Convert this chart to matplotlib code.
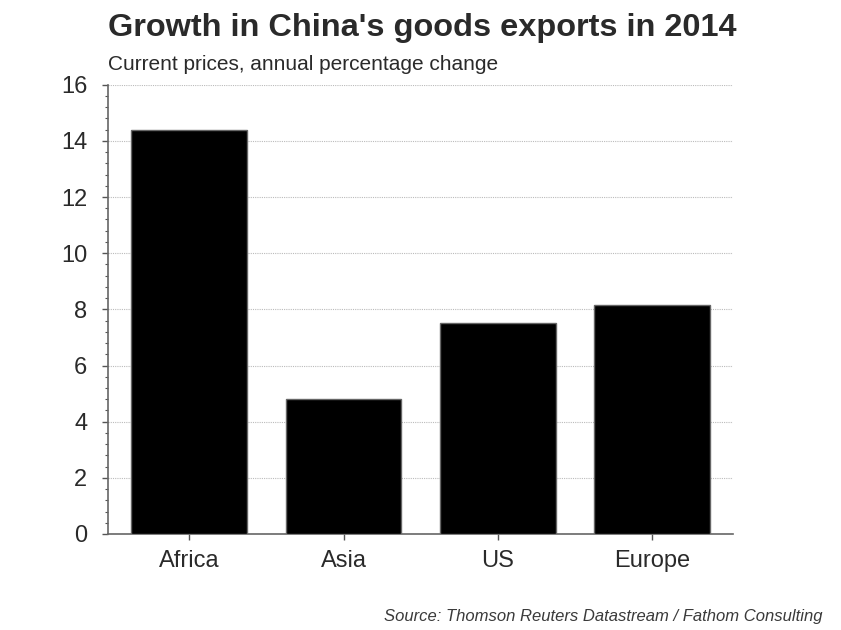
import matplotlib.pyplot as plt
from matplotlib.ticker import MultipleLocator

plt.rcParams['font.family'] = ['Liberation Sans', 'DejaVu Sans']

# data
regions = ['Africa', 'Asia', 'US', 'Europe']
growth = [14.40, 4.81, 7.51, 8.17]

fig = plt.figure(figsize=(8.41, 6.3), dpi=100)
ax = fig.add_axes([108 / 841, 1 - 534 / 630, 625.3 / 841, 449.3 / 630])

x = range(len(regions))
ax.bar(x, growth, width=0.75, color='black', edgecolor='#666666', linewidth=1.0, zorder=3)

ax.set_xlim(-0.527, 3.527)
ax.set_ylim(0, 16)
ax.set_xticks(list(x))
ax.set_xticklabels(regions)
ax.yaxis.set_major_locator(MultipleLocator(2))
ax.yaxis.set_minor_locator(MultipleLocator(0.4))

# dotted grid at major ticks
ax.grid(axis='y', which='major', color='#bbbbbb', linestyle=(0, (1, 1)), linewidth=0.8, zorder=0)

for side in ['top', 'right']:
    ax.spines[side].set_visible(False)
for side in ['left', 'bottom']:
    ax.spines[side].set_color('#666666')
    ax.spines[side].set_linewidth(1.2)

ax.tick_params(axis='y', which='major', length=4.3, width=1, color='#555555',
               labelsize=17, labelcolor='#2a2a2a', pad=10.5)
ax.tick_params(axis='y', which='minor', length=2.2, width=0.8, color='#555555')
ax.tick_params(axis='x', which='major', length=4.3, width=1, color='#555555',
               labelsize=17, labelcolor='#2a2a2a', pad=7.5)

fig.text(108 / 841, 1 - 36 / 630, "Growth in China's goods exports in 2014",
         fontsize=23.4, fontweight='bold', color='#2a2a2a', va='baseline', ha='left')
fig.text(108 / 841, 1 - 70 / 630, "Current prices, annual percentage change",
         fontsize=15, color='#2a2a2a', va='baseline', ha='left')
fig.text(823 / 841, 1 - 621 / 630, "Source: Thomson Reuters Datastream / Fathom Consulting",
         fontsize=12, style='italic', color='#3a3a3a', va='baseline', ha='right')

fig.savefig('out.png', dpi=100)
